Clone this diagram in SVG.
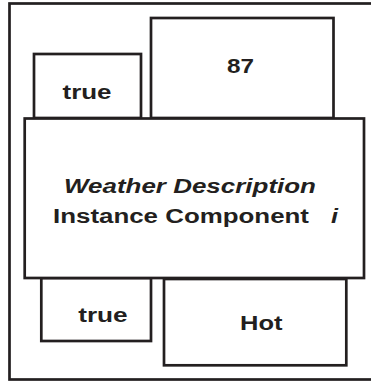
<svg xmlns="http://www.w3.org/2000/svg" width="371" height="381" viewBox="0 0 371 381">
<style>
.box{fill:#fff;stroke:#231f20;stroke-width:2.7}
.frame{fill:none;stroke:#231f20;stroke-width:2.7}
.t{font-family:"Liberation Sans",Arial,sans-serif;font-weight:bold;font-size:19.5px;fill:#231f20}
.it{font-style:italic}
</style>
<rect width="371" height="381" fill="#fff"/>
<rect class="frame" x="9.5" y="3.5" width="372" height="376"/>
<g id="true-top">
<rect class="box" x="34" y="54" width="107" height="64"/>
<text class="t" x="62.5" y="99.3" textLength="49" lengthAdjust="spacingAndGlyphs">true</text>
</g>
<g id="value-87">
<rect class="box" x="151" y="18" width="182.5" height="100"/>
<text class="t" x="227" y="73.3" textLength="27" lengthAdjust="spacingAndGlyphs">87</text>
</g>
<g id="true-bottom">
<rect class="box" x="41.3" y="278" width="109.7" height="63"/>
<text class="t" x="78.2" y="321.7" textLength="49.5" lengthAdjust="spacingAndGlyphs">true</text>
</g>
<g id="hot">
<rect class="box" x="164" y="279" width="182.3" height="86.3"/>
<text class="t" x="240" y="329.5" textLength="42.5" lengthAdjust="spacingAndGlyphs">Hot</text>
</g>
<g id="weather-description">
<rect class="box" x="24.7" y="118.5" width="339.3" height="159.5"/>
<text class="t it" x="64" y="192.5" textLength="252" lengthAdjust="spacingAndGlyphs">Weather Description</text>
<text class="t" x="53" y="222.7" textLength="256" lengthAdjust="spacingAndGlyphs">Instance Component</text>
<text class="t it" x="331" y="222.7" textLength="7" lengthAdjust="spacingAndGlyphs">i</text>
</g>
<g id="connectors"/>
</svg>
